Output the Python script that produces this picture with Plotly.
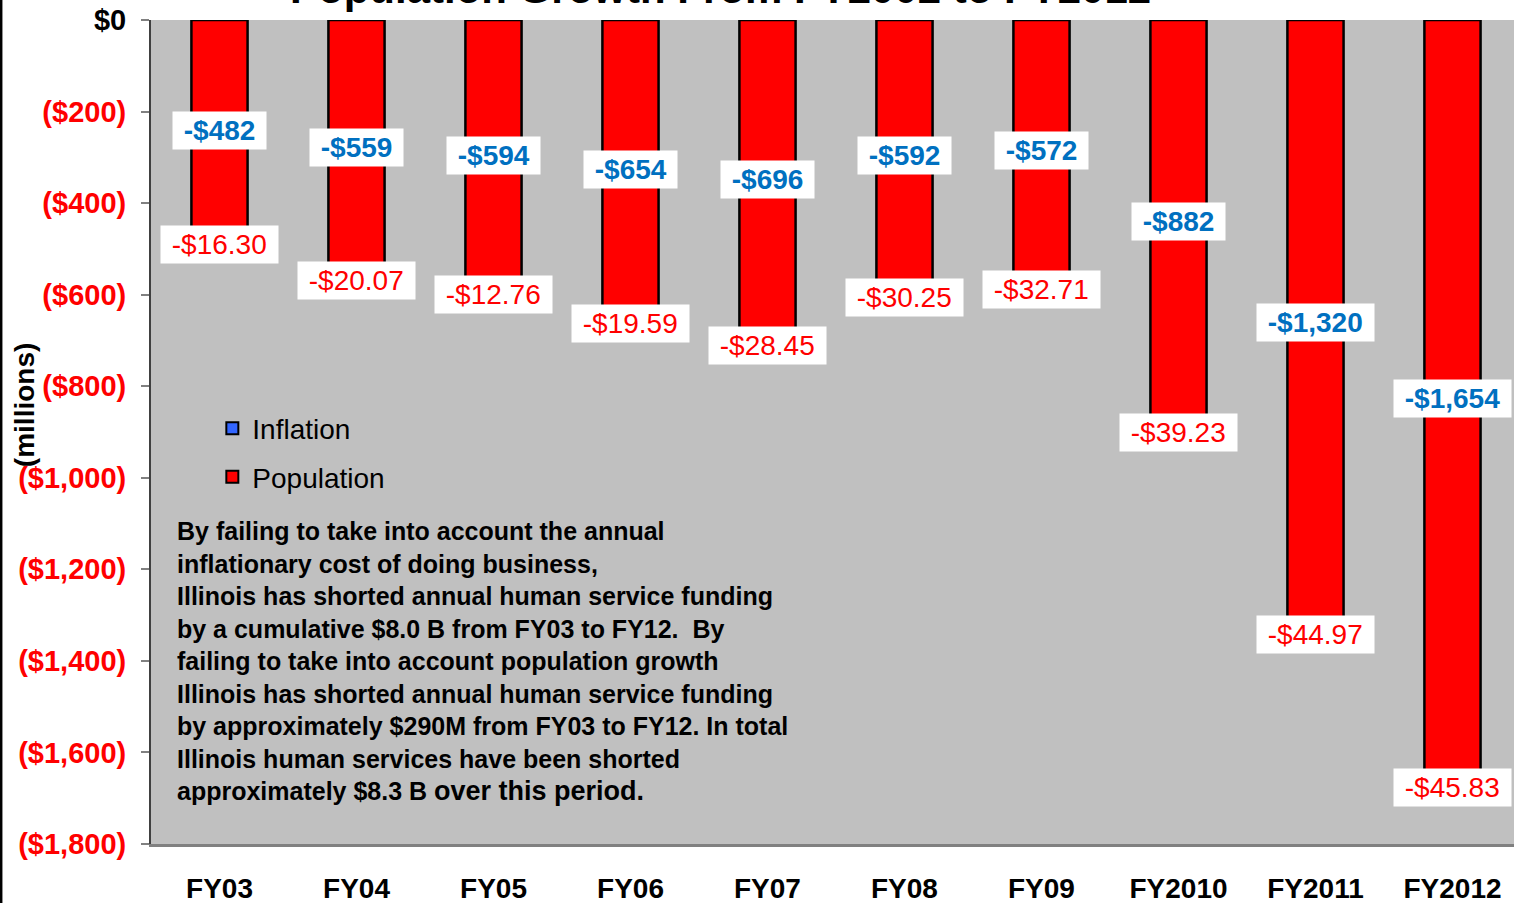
import plotly.graph_objects as go

categories = ["FY03", "FY04", "FY05", "FY06", "FY07", "FY08", "FY09", "FY2010", "FY2011", "FY2012"]
inflation = [-482, -559, -594, -654, -696, -592, -572, -882, -1320, -1654]
population = [-16.30, -20.07, -12.76, -19.59, -28.45, -30.25, -32.71, -39.23, -44.97, -45.83]
ytick_vals = [0, -200, -400, -600, -800, -1000, -1200, -1400, -1600, -1800]
ytick_text = ["<span style='color:black'>$0</span>", "($200)", "($400)", "($600)", "($800)",
              "($1,000)", "($1,200)", "($1,400)", "($1,600)", "($1,800)"]
title_text = "Population Growth From FY2002 to FY2012"
note_lines = [
    "By failing to take into account the annual",
    "inflationary cost of doing business,",
    "Illinois has shorted annual human service funding",
    "by a cumulative $8.0 B from FY03 to FY12.  By",
    "failing to take into account population growth",
    "Illinois has shorted annual human service funding",
    "by approximately $290M from FY03 to FY12. In total",
    "Illinois human services have been shorted",
    "approximately $8.3 B <span style='font-size:27px'>over this period.</span>",
]

FONT = "Liberation Sans, Arial, sans-serif"
RED = "#FF0000"
BLUE_TXT = "#0070C0"
NB = "\u00a0"

fig = go.Figure()
# real stacked bars (all drawn red, as in the reference)
fig.add_trace(go.Bar(x=categories, y=inflation, name="Inflation", showlegend=False,
                     marker=dict(color=RED, line=dict(color="black", width=2.5)), width=0.41))
fig.add_trace(go.Bar(x=categories, y=population, name="Population", showlegend=False,
                     marker=dict(color=RED, line=dict(color="black", width=2.5)), width=0.41))
# legend keys
fig.add_trace(go.Bar(x=[None], y=[None], name="Inflation", legendgroup="a",
                     marker=dict(color="#3366FF", line=dict(color="black", width=2))))
fig.add_trace(go.Bar(x=[None], y=[None], name="Population", legendgroup="b",
                     marker=dict(color=RED, line=dict(color="black", width=2))))

annotations = []
for c, inf, pop in zip(categories, inflation, population):
    annotations.append(dict(x=c, y=inf / 2, xref="x", yref="y", showarrow=False,
                            text=NB + "-${:,.0f}".format(abs(inf)) + NB,
                            font=dict(family=FONT, size=28, color=BLUE_TXT, weight="bold"),
                            bgcolor="white", borderpad=3))
    annotations.append(dict(x=c, y=inf + pop / 2, xref="x", yref="y", showarrow=False,
                            text=NB + "-${:.2f}".format(abs(pop)) + NB,
                            font=dict(family=FONT, size=28, color=RED),
                            bgcolor="white", borderpad=3))

annotations.append(dict(x=0.0176, y=0.3995, xref="paper", yref="paper", xanchor="left", yanchor="top",
                        align="left", showarrow=False, text="<br>".join(note_lines),
                        font=dict(family=FONT, size=25, color="black", weight="bold")))
annotations.append(dict(x=-0.0928, y=0.532, xref="paper", yref="paper", xanchor="center",
                        yanchor="middle", showarrow=False,
                        textangle=-90, text="(millions)",
                        font=dict(family=FONT, size=28, color="black", weight="bold")))
annotations.append(dict(x=0.418, y=1, xref="paper", yref="paper", xanchor="center", yanchor="bottom",
                        yshift=6, showarrow=False, text=title_text,
                        font=dict(family=FONT, size=42, color="black", weight="bold")))

fig.update_layout(
    width=1514, height=903,
    margin=dict(l=151, r=0, t=20, b=59),
    paper_bgcolor="white", plot_bgcolor="#C0C0C0",
    barmode="relative", bargap=0.59,
    font=dict(family=FONT),
    showlegend=True,
    legend=dict(x=0.045, y=0.5345, xanchor="left", yanchor="top", bgcolor="rgba(0,0,0,0)",
                font=dict(family=FONT, size=28, color="black"), tracegroupgap=9,
                traceorder="grouped"),
    xaxis=dict(type="category", range=[-0.5, 9.449], showgrid=False, zeroline=False,
               showline=True, linecolor="#808080", linewidth=2.5, ticks="", automargin=False,
               tickfont=dict(family=FONT, size=28, color="black", weight="bold"),
               ticklabelstandoff=18),
    xaxis2=dict(overlaying="x", side="top", range=[-0.5, 9.449], showgrid=False, zeroline=False,
                showline=True, linecolor="#333333", linewidth=2, ticks="inside", ticklen=9,
                tickcolor="#808080", tickwidth=2, showticklabels=False, automargin=False,
                tickvals=[i + 0.5 for i in range(len(categories) - 1)]),
    yaxis=dict(range=[-1800, 0], tickvals=ytick_vals, ticktext=ytick_text, showgrid=False,
               zeroline=False, showline=True, linecolor="#404040", linewidth=2, automargin=False,
               ticks="outside", ticklen=8, tickcolor="#808080", tickwidth=2,
               tickfont=dict(family=FONT, size=29, color=RED, weight="bold"),
               ticklabelstandoff=9),
    annotations=annotations,
    shapes=[dict(type="line", xref="paper", yref="paper", x0=-0.1101, x1=-0.1101, y0=-0.2, y1=1.2,
                 line=dict(color="black", width=3))],
)

fig.write_html("out.html", config={"displayModeBar": False},
               post_script="document.body.style.margin='0';document.body.style.overflow='hidden';")
